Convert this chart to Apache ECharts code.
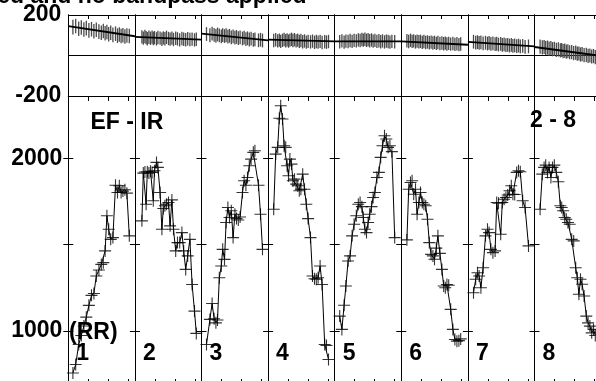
<!DOCTYPE html>
<html><head><meta charset="utf-8">
<script src="https://cdn.jsdelivr.net/npm/echarts@6/dist/echarts.min.js"></script>
<style>html,body{margin:0;padding:0;background:#fff}#c{width:596px;height:381px}</style>
</head><body><div id="c"></div>
<script>
// ---------- data ----------
const panelNames = ['1','2','3','4','5','6','7','8'];
const titleText = 'ed and no bandpass applied';
const leftLabel = 'EF - IR';
const rightLabel = '2 - 8';
const unitLabel = '(RR)';
const xTicks = [10, 20, 30];
const rrTicks = [1000, 1500, 2000];
const rrTickLabels = [1000, 2000];
const residTicks = [-200, 0, 200];
const residTickLabels = [-200, 200];

// RR intervals (x = time within panel, y = RR ms)
const rr1 = [[2.3,758],[3.7,807],[5.2,923],[6.5,975],[7.8,1030],[9.0,1081],[10.3,1149],[11.6,1207],[12.8,1218],[14.0,1319],[15.3,1354],[16.5,1386],[17.5,1396],[18.4,1464],[19.3,1667],[20.2,1589],[21.2,1531],[22.3,1541],[23.6,1844],[24.6,1802],[25.5,1841],[26.4,1802],[27.3,1810],[28.3,1818],[29.3,1798],[30.5,1551]];
const rr2 = [[3.5,1638],[4.2,1914],[5.0,1920],[5.6,1734],[6.2,1922],[7.0,1914],[7.8,1925],[8.6,1918],[9.2,1754],[9.8,1928],[10.8,1976],[11.5,1947],[12.6,1802],[13.5,1589],[14.2,1709],[15.0,1725],[15.8,1734],[16.8,1744],[17.6,1609],[18.5,1759],[19.3,1589],[20.4,1464],[21.3,1512],[22.4,1512],[23.5,1570],[24.4,1464],[25.4,1357],[26.4,1435],[27.5,1531],[28.6,1270],[29.8,1116],[30.7,987]];
const rr3 = [[2.5,923],[4.2,1068],[5.3,1160],[6.3,1072],[7.2,1048],[8.0,1064],[8.9,1309],[9.9,1377],[10.6,1473],[11.5,1415],[12.3,1628],[13.2,1715],[14.0,1657],[14.9,1696],[15.8,1541],[16.7,1676],[17.5,1651],[18.4,1643],[19.3,1660],[20.5,1802],[21.3,1870],[22.2,1844],[23.0,1889],[23.9,1957],[24.8,1995],[25.9,2034],[26.7,2043],[28.5,1844],[29.5,1676],[30.5,1473]];
const rr4 = [[2.8,1705],[3.8,2024],[4.8,2063],[5.6,2231],[6.3,2304],[7.2,2227],[8.0,2072],[8.8,2063],[9.5,1957],[10.2,1899],[10.9,1995],[11.7,1966],[12.4,1870],[13.2,1879],[14.0,1850],[14.8,1841],[15.6,1812],[16.4,1821],[17.3,1908],[18.2,1821],[19.1,1734],[20.0,1651],[21.2,1541],[22.2,1319],[23.2,1303],[24.1,1300],[25.0,1309],[26.0,1377],[27.0,1270],[28.3,923],[29.2,917],[30.2,836]];
const rr5 = [[2.5,1087],[3.6,1010],[4.7,1150],[5.6,1261],[6.7,1406],[7.7,1435],[8.7,1551],[9.7,1618],[10.8,1667],[11.8,1734],[12.7,1744],[13.6,1720],[14.3,1657],[15.1,1589],[15.9,1570],[16.7,1628],[17.5,1676],[18.4,1720],[19.2,1773],[20.1,1802],[21.1,1889],[22.1,1918],[23.0,2005],[23.9,2072],[24.9,2130],[25.8,2111],[26.7,2063],[27.6,2072],[28.6,2038],[30.0,1541]];
const rr6 = [[2.8,1528],[3.7,1821],[4.6,1860],[5.4,1870],[6.2,1792],[7.1,1821],[7.9,1676],[8.8,1744],[9.6,1802],[10.5,1744],[11.3,1734],[12.2,1725],[13.1,1647],[14.0,1512],[14.9,1444],[15.8,1435],[16.6,1416],[17.5,1480],[18.3,1551],[19.3,1450],[20.3,1357],[21.2,1261],[22.0,1251],[22.8,1270],[23.7,1265],[24.7,1126],[25.8,1010],[26.8,952],[27.8,942],[28.8,945],[29.7,955]];
const rr7 = [[2.8,1222],[3.9,1300],[4.8,1338],[5.6,1319],[6.5,1251],[7.6,1367],[8.8,1551],[9.8,1589],[10.6,1570],[11.5,1473],[12.5,1454],[13.6,1464],[14.4,1744],[15.3,1740],[16.4,1560],[17.2,1744],[18.1,1763],[19.0,1773],[19.9,1787],[20.8,1812],[21.7,1841],[22.5,1792],[23.4,1790],[24.4,1918],[25.3,1928],[26.2,1922],[27.4,1754],[28.6,1715],[30.3,1493]];
const rr8 = [[2.8,1705],[3.9,1908],[4.8,1947],[5.6,1960],[6.5,1918],[7.3,1947],[8.2,1889],[9.0,1947],[9.9,1960],[10.9,1918],[11.9,1864],[12.9,1725],[13.6,1715],[14.3,1696],[15.1,1657],[15.9,1647],[16.7,1628],[17.6,1618],[18.6,1531],[19.6,1522],[20.6,1367],[21.4,1309],[22.2,1213],[23.0,1300],[23.8,1271],[24.8,1203],[25.9,1087],[26.8,1048],[27.7,1029],[28.6,990],[29.5,1010],[30.4,975]];

// residual centres (same beats as rr arrays)
const resid1 = [140,146,132,138,128,135,124,130,120,127,118,112,121,110,116,105,112,102,108,98,104,96,100,94,99,96];
const resid2 = [92,86,94,88,83,90,85,91,84,88,82,89,86,80,87,83,90,84,81,86,79,85,82,77,84,80,78,83,79,81,77,80];
const resid3 = [106,100,108,102,97,104,99,95,101,96,100,93,97,90,95,88,92,86,90,84,88,81,85,79,83,77,80,75,78,74];
const resid4 = [74,78,72,76,70,75,79,73,77,71,76,80,74,78,72,76,70,74,68,72,66,70,67,71,65,69,66,70,64,68,66,69];
const resid5 = [68,72,66,71,69,74,70,75,72,77,74,79,76,80,75,78,73,77,71,75,70,73,68,72,67,71,69,66,70,68];
const resid6 = [73,69,75,70,72,67,71,68,70,65,69,64,67,63,66,62,65,60,64,59,62,58,61,57,60,56,59,55,58,54,57];
const resid7 = [68,64,66,62,65,60,63,59,62,57,60,56,58,54,57,52,55,51,53,49,52,48,50,46,49,45,47,43,45];
const resid8 = [44,40,42,37,39,34,36,31,33,28,30,25,27,22,24,19,21,16,17,12,14,9,10,5,7,2,3,-2,0,-5,-3,-8];
const residHalf = [36, 33, 34, 33, 33, 33, 34, 35];
const trendStart = [145, 92, 108, 78, 70, 70, 67, 42];
const trendEnd = [95, 78, 75, 70, 70, 53, 45, -2];

const rrAll = [rr1, rr2, rr3, rr4, rr5, rr6, rr7, rr8];
const residAll = [resid1, resid2, resid3, resid4, resid5, resid6, resid7, resid8];

// ---------- layout ----------
const FONT = '"Liberation Sans", Arial, sans-serif';
const FS = 23;
const L0 = 68.3, PW = 66.6, SPAN = 33.3;
const TOP1 = 15, H1 = 81, TOP2 = 96, H2 = 287;

const grids = [], xAxes = [], yAxes = [], series = [], graphics = [];

function xAx(gi, pos, ticks, len) {
  return {type: 'value', gridIndex: gi, position: pos, min: 0, max: SPAN,
    axisLine: {show: true, onZero: false, lineStyle: {color: '#000', width: 1}},
    axisTick: {show: ticks, inside: true, length: len, customValues: xTicks, lineStyle: {color: '#000', width: 1}},
    axisLabel: {show: false}, splitLine: {show: false}};
}
const plain = v => String(v);

for (let k = 0; k < 8; k++) {
  const left = L0 + PW * k;
  const gTop = grids.length;
  grids.push({left: left, top: TOP1, width: PW, height: H1, outerBoundsMode: 'none', containLabel: false});
  const gBot = grids.length;
  grids.push({left: left, top: TOP2, width: PW, height: H2, outerBoundsMode: 'none', containLabel: false});

  const xTopA = xAxes.length; xAxes.push(xAx(gTop, 'bottom', false, 4));
  xAxes.push(xAx(gTop, 'top', true, 4));
  const xBotA = xAxes.length; xAxes.push(xAx(gBot, 'bottom', true, 4));
  xAxes.push(xAx(gBot, 'top', true, 5));

  const yTopA = yAxes.length;
  yAxes.push({type: 'value', gridIndex: gTop, position: 'left', min: -200, max: 200, interval: 200,
    axisLine: {show: true, lineStyle: {color: '#000', width: 1}},
    axisTick: {show: false},
    axisLabel: {show: k === 0, customValues: residTickLabels, formatter: plain, color: '#000', fontFamily: FONT, fontWeight: 'bold', fontSize: FS, margin: 7},
    splitLine: {show: true, lineStyle: {color: '#000', width: 1}}});
  yAxes.push({type: 'value', gridIndex: gTop, position: 'right', min: -200, max: 200,
    axisLine: {show: true, lineStyle: {color: '#000', width: 1}},
    axisTick: {show: false}, axisLabel: {show: false}, splitLine: {show: false}});

  const yBotA = yAxes.length;
  yAxes.push({type: 'value', gridIndex: gBot, position: 'left', min: 700, max: 2360,
    axisLine: {show: true, lineStyle: {color: '#000', width: 1}},
    axisTick: {show: true, inside: true, length: 5, customValues: rrTicks, lineStyle: {color: '#000', width: 1}},
    axisLabel: {show: k === 0, customValues: rrTickLabels, formatter: plain, color: '#000', fontFamily: FONT, fontWeight: 'bold', fontSize: FS, margin: 6},
    splitLine: {show: false}});
  yAxes.push({type: 'value', gridIndex: gBot, position: 'right', min: 700, max: 2360,
    axisLine: {show: true, lineStyle: {color: '#000', width: 1}},
    axisTick: {show: true, inside: true, length: 5, customValues: rrTicks, lineStyle: {color: '#000', width: 1}},
    axisLabel: {show: false}, splitLine: {show: false}});

  const rr = rrAll[k];
  const res = residAll[k];
  series.push({type: 'custom', xAxisIndex: xTopA, yAxisIndex: yTopA, clip: true, silent: true, animation: false,
    data: res.map((c, i) => [rr[i][0], c, residHalf[k]]),
    renderItem: function (params, api) {
      const x = api.value(0), c = api.value(1), h = api.value(2);
      const p1 = api.coord([x, c - h]), p2 = api.coord([x, c + h]);
      return {type: 'line', shape: {x1: p1[0], y1: p1[1], x2: p2[0], y2: p2[1]},
        style: {stroke: '#4a4a4a', lineWidth: 1.3}};
    }});
  series.push({type: 'line', xAxisIndex: xTopA, yAxisIndex: yTopA, symbol: 'none', animation: false, silent: true,
    data: [[0, trendStart[k]], [SPAN, trendEnd[k]]], lineStyle: {color: '#000', width: 1.8}});
  series.push({type: 'line', xAxisIndex: xBotA, yAxisIndex: yBotA, symbol: 'none', animation: false, silent: true,
    data: rr, lineStyle: {color: '#000', width: 1}});
  series.push({type: 'scatter', xAxisIndex: xBotA, yAxisIndex: yBotA, animation: false, silent: true,
    symbol: 'path://M0,6L12,6M6,0L6,12', symbolSize: 12,
    itemStyle: {color: 'rgba(0,0,0,0)', borderColor: '#000', borderWidth: 1.1},
    data: rr});

  graphics.push({type: 'text', x: left + 8, y: 354, silent: true,
    style: {text: panelNames[k], font: 'bold ' + FS + 'px ' + FONT, fill: '#000', textAlign: 'left', textVerticalAlign: 'middle'}});
}

graphics.push({type: 'text', x: 306.5, y: -3, silent: true,
  style: {text: titleText, font: 'bold ' + FS + 'px ' + FONT, fill: '#000', textAlign: 'right', textVerticalAlign: 'middle'}});
graphics.push({type: 'text', x: 90.5, y: 122.5, silent: true,
  style: {text: leftLabel, font: 'bold ' + FS + 'px ' + FONT, fill: '#000', textAlign: 'left', textVerticalAlign: 'middle'}});
graphics.push({type: 'text', x: 530, y: 121, silent: true,
  style: {text: rightLabel, font: 'bold ' + FS + 'px ' + FONT, fill: '#000', textAlign: 'left', textVerticalAlign: 'middle'}});
graphics.push({type: 'text', x: 69, y: 333, silent: true,
  style: {text: unitLabel, font: 'bold ' + FS + 'px ' + FONT, fill: '#000', textAlign: 'left', textVerticalAlign: 'middle'}});

const chart = echarts.init(document.getElementById('c'), null, {renderer: 'canvas'});
chart.setOption({
  animation: false,
  backgroundColor: '#fff',
  grid: grids, xAxis: xAxes, yAxis: yAxes, series: series,
  graphic: graphics
});
</script></body></html>
